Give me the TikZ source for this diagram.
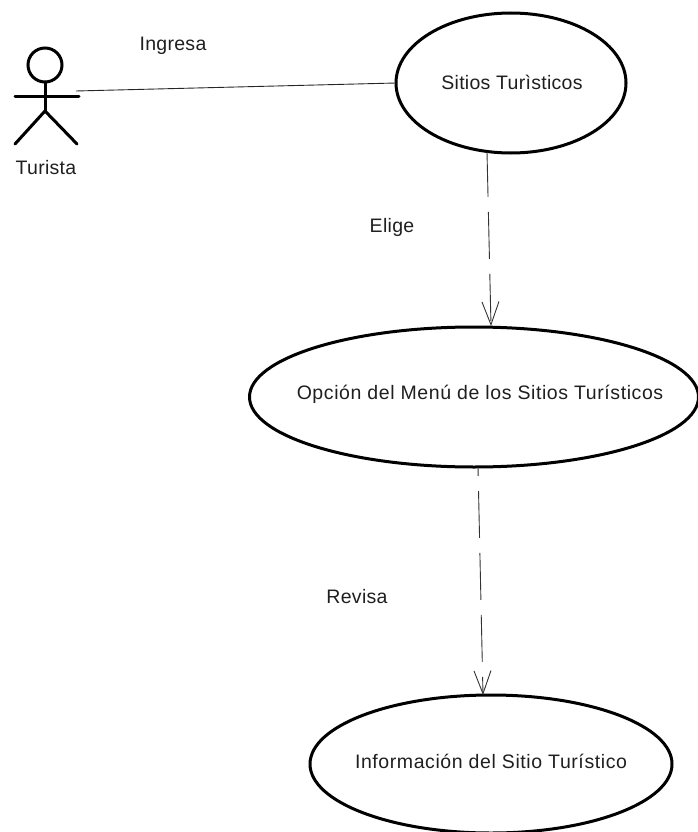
\documentclass[tikz,border=0pt]{standalone}
\usepackage{fontspec}
\setmainfont{Liberation Sans}
\newfontfamily\lblfont[LetterSpace=1.5]{Liberation Sans}
\newfontfamily\widefont[LetterSpace=3]{Liberation Sans}
\usetikzlibrary{arrows.meta,shapes.geometric}
\tikzset{
  usecase/.style={draw=black,line width=3pt,ellipse,inner sep=0pt,outer sep=0pt,minimum width=#1},
  lbl/.style={font=\lblfont\fontsize{19.5pt}{22pt}\selectfont,inner sep=0pt,text=black!88},
  widelbl/.style={font=\widefont\fontsize{19.5pt}{22pt}\selectfont,inner sep=0pt,text=black!88},
  actorline/.style={line width=3pt,line cap=round,black},
  assoc/.style={line width=0.9pt,black!85},
  dep/.style={line width=0.9pt,black!80,-{Straight Barb[length=23pt,width=17pt,line width=0.9pt]}}
}
\begin{document}
\begin{tikzpicture}[x=1pt,y=-1pt]
\useasboundingbox (0,0) rectangle (698,832);
% use cases
\node[usecase=230pt,minimum height=140pt] (sitios) at (511,83) {};
\node[usecase=449pt,minimum height=140pt] (opcion) at (474,397) {};
\node[usecase=362pt,minimum height=138pt] (info) at (491,764) {};
\node[lbl] (tsitios) at (512,82) {Sitios Turìsticos};
\node[widelbl] (topcion) at (480,394) {Opción del Menú de los Sitios Turísticos};
\node[widelbl] (tinfo) at (491,761) {Información del Sitio Turístico};
% actor
\node[draw=black,line width=3pt,circle,minimum size=34pt,inner sep=0pt,outer sep=0pt] (head) at (45,65) {};
\coordinate (hip) at (45,111);
\coordinate (armL) at (15,97);
\coordinate (armR) at (79,97);
\coordinate (footL) at (15,144);
\coordinate (footR) at (77,144);
\draw[actorline] (head.south) -- (hip);
\draw[actorline] (armL) -- (armR);
\draw[actorline] (footL) -- (hip) -- (footR);
\node[lbl] (turista) at (46,168) {Turista};
% connectors
\coordinate (actorhand) at (76,91);
\draw[assoc] (actorhand) -- (sitios.west);
\coordinate (s1) at (487,152);
\coordinate (e1) at (491,326);
\coordinate (s2) at (478,467);
\coordinate (e2) at (483,695);
\draw[dep,dash pattern=on 47pt off 15pt,dash phase=2pt] (s1) -- (e1);
\draw[dep,dash pattern=on 47pt off 15pt,dash phase=38pt] (s2) -- (e2);
% labels
\node[lbl] (ingresa) at (173,46) {Ingresa};
\node[lbl] (elige) at (392,227) {Elige};
\node[lbl] (revisa) at (357,597) {Revisa};
\end{tikzpicture}
\end{document}
